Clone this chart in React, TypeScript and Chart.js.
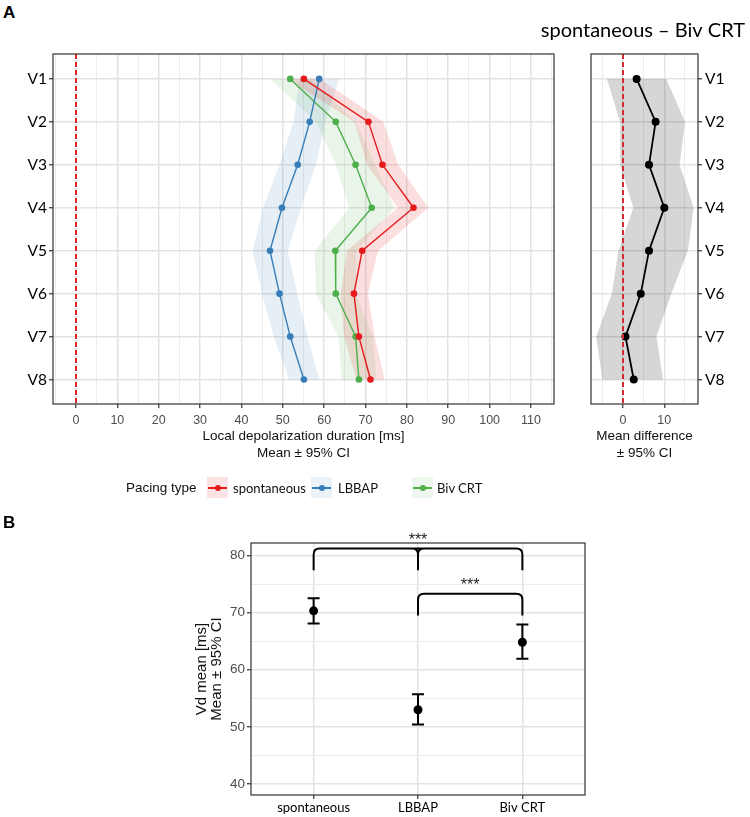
import React, { useEffect, useRef } from 'react';
import { Chart, registerables } from 'chart.js';

Chart.register(...registerables);

// ---------------- data ----------------
const leads = ['V1', 'V2', 'V3', 'V4', 'V5', 'V6', 'V7', 'V8'];

const spontMean = [55.1, 70.7, 74.1, 81.6, 69.2, 67.2, 68.4, 71.2];
const spontLow = [51.2, 67.3, 70.4, 77.8, 65.5, 64.0, 64.8, 67.8];
const spontHigh = [59.0, 74.3, 77.9, 85.2, 73.0, 70.6, 72.2, 74.6];

const lbbapMean = [58.8, 56.5, 53.6, 49.8, 46.9, 49.2, 51.8, 55.1];
const lbbapLow = [54.0, 52.6, 49.2, 45.2, 42.7, 45.0, 47.8, 51.5];
const lbbapHigh = [63.6, 60.3, 58.0, 54.4, 51.2, 53.5, 56.0, 58.8];

const bivMean = [51.8, 62.8, 67.6, 71.5, 62.7, 62.8, 67.6, 68.4];
const bivLow = [46.9, 58.0, 62.8, 66.1, 57.7, 58.0, 63.4, 64.3];
const bivHigh = [56.7, 67.6, 72.4, 77.0, 67.8, 67.6, 71.8, 72.6];

const diffMean = [3.3, 7.9, 6.3, 10.0, 6.3, 4.3, 0.6, 2.6];
const diffLow = [-3.9, -0.7, -0.7, 2.5, -1.1, -2.7, -6.5, -5.0];
const diffHigh = [10.5, 15.0, 13.7, 17.1, 15.7, 11.7, 8.1, 9.7];

const refValue = 0;

const groups = ['spontaneous', 'LBBAP', 'Biv CRT'];
const vdMean = [70.3, 53.0, 64.8];
const vdLow = [68.1, 50.4, 61.9];
const vdHigh = [72.5, 55.7, 67.9];

const bracketFrom = [0, 1];
const bracketTo = [2, 2];
const bracketMid = [1, null];
const bracketTop = [81.2, 73.3];
const bracketLeg = [77.4, 69.5];
const bracketLabel = ['***', '***'];
const bracketLabelY = [81.9, 74.0];

const leftTicks = [-5, 0, 5, 10, 15, 20, 25, 30, 35, 40, 45, 50, 55, 60, 65, 70, 75, 80, 85, 90, 95, 100, 105, 110, 115];
const rightTicks = [-5, 0, 5, 10, 15];
const vdTicks = [40, 45, 50, 55, 60, 65, 70, 75, 80];

// ---------------- style ----------------
const SANS = '"Liberation Sans", Arial, sans-serif';
const LATO = 'Lato, "Open Sans", sans-serif';
const RED = '#e41a1c';
const BLUE = '#377eb8';
const GREEN = '#4daf4a';
const DASH = '#d42a2a';
const CAT_MIN = -0.58;
const CAT_MAX = 7.57;

const majorOf10 = (v: number) => Math.abs(v % 10) < 1e-9;

const gridCfg = (isMajor: (v: number) => boolean) => ({
  color: (c: any) => (c.tick && isMajor(c.tick.value) ? '#e3e3e3' : '#ececec'),
  lineWidth: (c: any) => (c.tick && isMajor(c.tick.value) ? 1.5 : 1),
  tickColor: (c: any) => (c.tick && isMajor(c.tick.value) ? '#333333' : 'rgba(0,0,0,0)'),
  tickLength: 4,
  tickWidth: 1.2,
  drawTicks: true,
});

const framePlugin = {
  id: 'frame',
  afterDraw(chart: any) {
    const { ctx, chartArea: a } = chart;
    ctx.save();
    ctx.strokeStyle = '#333333';
    ctx.lineWidth = 1.2;
    ctx.strokeRect(a.left, a.top, a.right - a.left, a.bottom - a.top);
    ctx.restore();
  },
};

const toPts = (vals: number[]) => vals.map((v, i) => ({ x: v, y: i }));
const toRibbon = (lo: number[], hi: number[]) => [
  ...lo.map((v, i) => ({ x: v, y: i })),
  ...hi.map((v, i) => ({ x: v, y: i })).reverse(),
];

const lineDs = (vals: number[], color: string, width: number, radius: number) => ({
  data: toPts(vals),
  showLine: true,
  borderColor: color,
  backgroundColor: color,
  borderWidth: width,
  pointRadius: radius,
  pointBorderWidth: 0,
  pointBackgroundColor: color,
  tension: 0,
  order: 1,
});

const ribbonDs = (lo: number[], hi: number[], fill: string) => ({
  data: toRibbon(lo, hi),
  showLine: true,
  borderWidth: 0,
  borderColor: 'rgba(0,0,0,0)',
  backgroundColor: fill,
  pointRadius: 0,
  fill: 'shape',
  tension: 0,
  order: 2,
});

const refDs = () => ({
  data: [
    { x: refValue, y: CAT_MIN },
    { x: refValue, y: CAT_MAX },
  ],
  showLine: true,
  borderColor: DASH,
  borderDash: [5, 3],
  borderWidth: 2,
  pointRadius: 0,
  order: 0,
});

const axisTitleFont = { family: SANS, size: 13.5, lineHeight: 1.2 };
const tickFont = { family: SANS, size: 12.5, lineHeight: 1.2 };

function leftConfig(): any {
  return {
    type: 'scatter',
    data: {
      datasets: [
        refDs(),
        lineDs(spontMean, RED, 1.4, 3.3),
        lineDs(lbbapMean, BLUE, 1.4, 3.3),
        lineDs(bivMean, GREEN, 1.4, 3.3),
        ribbonDs(spontLow, spontHigh, 'rgba(228,26,28,0.14)'),
        ribbonDs(lbbapLow, lbbapHigh, 'rgba(55,126,184,0.12)'),
        ribbonDs(bivLow, bivHigh, 'rgba(77,175,74,0.12)'),
      ],
    },
    options: {
      responsive: false,
      animation: false,
      devicePixelRatio: 1,
      layout: { padding: { top: 14, right: 6, left: 0, bottom: 0 } },
      plugins: { legend: { display: false }, tooltip: { enabled: false } },
      scales: {
        x: {
          type: 'linear',
          min: -5.56,
          max: 115.57,
          afterBuildTicks: (s: any) => {
            s.ticks = leftTicks.map((v) => ({ value: v }));
          },
          afterFit: (s: any) => {
            s.height = 61;
          },
          ticks: {
            autoSkip: false,
            maxRotation: 0,
            padding: 5,
            font: tickFont,
            color: '#4d4d4d',
            callback: (v: number) => (majorOf10(v) && v >= 0 && v <= 110 ? String(v) : ''),
          },
          grid: gridCfg((v) => majorOf10(v) && v >= 0),
          border: { display: false },
          title: {
            display: true,
            text: ['Local depolarization duration [ms]', 'Mean \u00b1 95% CI'],
            font: axisTitleFont,
            color: '#111',
            padding: { top: 0, bottom: 4 },
          },
        },
        y: {
          type: 'linear',
          reverse: true,
          min: CAT_MIN,
          max: CAT_MAX,
          afterBuildTicks: (s: any) => {
            s.ticks = leads.map((_, i) => ({ value: i }));
          },
          afterFit: (s: any) => {
            s.width = 53;
          },
          ticks: {
            autoSkip: false,
            padding: 2,
            font: { family: LATO, size: 15.5 },
            color: '#000',
            callback: (v: number) => leads[v] ?? '',
          },
          grid: gridCfg(() => true),
          border: { display: false },
        },
      },
    },
    plugins: [framePlugin],
  };
}

function rightConfig(): any {
  return {
    type: 'scatter',
    data: {
      datasets: [
        refDs(),
        lineDs(diffMean, '#000', 1.8, 4),
        ribbonDs(diffLow, diffHigh, 'rgba(0,0,0,0.16)'),
      ],
    },
    options: {
      responsive: false,
      animation: false,
      devicePixelRatio: 1,
      layout: { padding: { top: 0, right: 5, left: 0, bottom: 0 } },
      plugins: {
        legend: { display: false },
        tooltip: { enabled: false },
        title: {
          display: true,
          text: 'spontaneous \u2013 Biv CRT',
          align: 'end',
          color: '#000',
          font: { family: LATO, size: 20, weight: 'normal', lineHeight: 1.2 },
          padding: { top: 19, bottom: 11 },
        },
      },
      scales: {
        x: {
          type: 'linear',
          min: -7.75,
          max: 18.16,
          afterBuildTicks: (s: any) => {
            s.ticks = rightTicks.map((v) => ({ value: v }));
          },
          afterFit: (s: any) => {
            s.height = 61;
          },
          ticks: {
            autoSkip: false,
            maxRotation: 0,
            padding: 5,
            font: tickFont,
            color: '#4d4d4d',
            callback: (v: number) => (majorOf10(v) ? String(v) : ''),
          },
          grid: gridCfg(majorOf10),
          border: { display: false },
          title: {
            display: true,
            text: ['Mean difference', '\u00b1 95% CI'],
            font: axisTitleFont,
            color: '#111',
            padding: { top: 0, bottom: 4 },
          },
        },
        y: {
          type: 'linear',
          position: 'right',
          reverse: true,
          min: CAT_MIN,
          max: CAT_MAX,
          afterBuildTicks: (s: any) => {
            s.ticks = leads.map((_, i) => ({ value: i }));
          },
          afterFit: (s: any) => {
            s.width = 47;
          },
          ticks: {
            autoSkip: false,
            padding: 3,
            font: { family: LATO, size: 15.5 },
            color: '#000',
            callback: (v: number) => leads[v] ?? '',
          },
          grid: gridCfg(() => true),
          border: { display: false },
        },
        yd: {
          type: 'linear',
          position: 'left',
          display: true,
          min: 0,
          max: 1,
          grid: { display: false, drawTicks: false },
          ticks: { display: false },
          border: { display: false },
          afterFit: (s: any) => {
            s.width = 111;
          },
        },
      },
    },
    plugins: [framePlugin],
  };
}

const errorBarPlugin = {
  id: 'errorBars',
  beforeDatasetsDraw(chart: any) {
    const { ctx } = chart;
    const xs = chart.scales.x;
    const ys = chart.scales.y;
    ctx.save();
    ctx.strokeStyle = '#000';
    ctx.lineWidth = 2;
    vdMean.forEach((_, i) => {
      const px = xs.getPixelForValue(i);
      const yl = ys.getPixelForValue(vdLow[i]);
      const yh = ys.getPixelForValue(vdHigh[i]);
      ctx.beginPath();
      ctx.moveTo(px, yl);
      ctx.lineTo(px, yh);
      ctx.moveTo(px - 6, yl);
      ctx.lineTo(px + 6, yl);
      ctx.moveTo(px - 6, yh);
      ctx.lineTo(px + 6, yh);
      ctx.stroke();
    });
    ctx.restore();
  },
  afterDraw(chart: any) {
    const { ctx } = chart;
    const xs = chart.scales.x;
    const ys = chart.scales.y;
    const r = 6;
    ctx.save();
    ctx.strokeStyle = '#000';
    ctx.lineWidth = 2;
    ctx.lineCap = 'butt';
    bracketFrom.forEach((from, k) => {
      const xl = xs.getPixelForValue(from);
      const xr = xs.getPixelForValue(bracketTo[k]);
      const yt = ys.getPixelForValue(bracketTop[k]);
      const yb = ys.getPixelForValue(bracketLeg[k]);
      ctx.beginPath();
      ctx.moveTo(xl, yb);
      ctx.lineTo(xl, yt + r);
      ctx.quadraticCurveTo(xl, yt, xl + r, yt);
      ctx.lineTo(xr - r, yt);
      ctx.quadraticCurveTo(xr, yt, xr, yt + r);
      ctx.lineTo(xr, yb);
      const mid = bracketMid[k];
      if (mid !== null && mid !== undefined) {
        const xm = xs.getPixelForValue(mid);
        ctx.moveTo(xm - r, yt);
        ctx.quadraticCurveTo(xm, yt, xm, yt + r);
        ctx.lineTo(xm, yb);
        ctx.moveTo(xm + r, yt);
        ctx.quadraticCurveTo(xm, yt, xm, yt + r);
      }
      ctx.stroke();
      const lx = mid !== null && mid !== undefined ? xs.getPixelForValue(mid) : (xl + xr) / 2;
      ctx.fillStyle = '#222';
      ctx.font = `16px ${SANS}`;
      ctx.textAlign = 'center';
      ctx.textBaseline = 'alphabetic';
      ctx.fillText(bracketLabel[k], lx, ys.getPixelForValue(bracketLabelY[k]));
    });
    ctx.restore();
  },
};

function vdConfig(): any {
  return {
    type: 'scatter',
    data: {
      datasets: [
        {
          data: vdMean.map((v, i) => ({ x: i, y: v })),
          pointRadius: 4.5,
          pointBorderWidth: 0,
          backgroundColor: '#000',
          pointBackgroundColor: '#000',
          showLine: false,
        },
      ],
    },
    options: {
      responsive: false,
      animation: false,
      devicePixelRatio: 1,
      layout: { padding: { top: 43, right: 15, left: 0, bottom: 0 } },
      plugins: { legend: { display: false }, tooltip: { enabled: false } },
      scales: {
        x: {
          type: 'linear',
          min: -0.6,
          max: 2.6,
          afterBuildTicks: (s: any) => {
            s.ticks = groups.map((_, i) => ({ value: i }));
          },
          afterFit: (s: any) => {
            s.height = 22;
          },
          ticks: {
            autoSkip: false,
            maxRotation: 0,
            padding: 1.5,
            font: { family: LATO, size: 13, lineHeight: 1.2 },
            color: '#000',
            callback: (v: number) => groups[v] ?? '',
          },
          grid: gridCfg(() => true),
          border: { display: false },
        },
        y: {
          type: 'linear',
          min: 38.07,
          max: 82.18,
          afterBuildTicks: (s: any) => {
            s.ticks = vdTicks.map((v) => ({ value: v }));
          },
          afterFit: (s: any) => {
            s.width = 101;
          },
          ticks: {
            autoSkip: false,
            padding: 2,
            font: { family: SANS, size: 13.5 },
            color: '#4d4d4d',
            callback: (v: number) => (majorOf10(v) ? String(v) : ''),
          },
          grid: gridCfg(majorOf10),
          border: { display: false },
          title: {
            display: true,
            text: ['Vd mean [ms]', 'Mean \u00b1 95% CI'],
            font: { family: SANS, size: 15, lineHeight: '15px' },
            color: '#111',
            padding: { top: 44.5, bottom: 0 },
          },
        },
      },
    },
    plugins: [framePlugin, errorBarPlugin],
  };
}

function ChartBox(props: { make: () => any; left: number; top: number; width: number; height: number }) {
  const ref = useRef<HTMLCanvasElement>(null);
  useEffect(() => {
    const chart = new Chart(ref.current as HTMLCanvasElement, props.make());
    return () => chart.destroy();
  }, []);
  return (
    <canvas
      ref={ref}
      width={props.width}
      height={props.height}
      style={{ position: 'absolute', left: props.left, top: props.top, width: props.width, height: props.height }}
    />
  );
}

const legendItems = [
  { label: 'spontaneous', color: RED, fill: 'rgba(228,26,28,0.12)', keyX: 207, textX: 233 },
  { label: 'LBBAP', color: BLUE, fill: 'rgba(55,126,184,0.10)', keyX: 311, textX: 338 },
  { label: 'Biv CRT', color: GREEN, fill: 'rgba(77,175,74,0.10)', keyX: 412, textX: 437 },
];

export default function App() {
  return (
    <div style={{ position: 'absolute', left: 0, top: 0, width: 750, height: 817, background: '#fff', overflow: 'hidden' }}>
      <ChartBox make={leftConfig} left={0} top={40} width={560} height={425} />
      <ChartBox make={rightConfig} left={480} top={0} width={270} height={465} />
      <ChartBox make={vdConfig} left={150} top={500} width={450} height={317} />
      <div style={{ position: 'absolute', left: 3, top: 3, font: `bold 17px ${SANS}`, color: '#000' }}>A</div>
      <div style={{ position: 'absolute', left: 3, top: 513, font: `bold 17px ${SANS}`, color: '#000' }}>B</div>
      <div style={{ position: 'absolute', left: 126, top: 480, font: `13.5px ${SANS}`, lineHeight: '16px', color: '#111' }}>
        Pacing type
      </div>
      {legendItems.map((it) => (
        <React.Fragment key={it.label}>
          <div style={{ position: 'absolute', left: it.keyX, top: 477, width: 21, height: 21, background: it.fill }}>
            <div style={{ position: 'absolute', left: 1, top: 9.5, width: 19, height: 2, background: it.color }} />
            <div style={{ position: 'absolute', left: 7.5, top: 7.5, width: 6, height: 6, borderRadius: 3, background: it.color }} />
          </div>
          <div style={{ position: 'absolute', left: it.textX, top: 480, font: `13px ${LATO}`, lineHeight: '16px', color: '#111' }}>
            {it.label}
          </div>
        </React.Fragment>
      ))}
    </div>
  );
}
